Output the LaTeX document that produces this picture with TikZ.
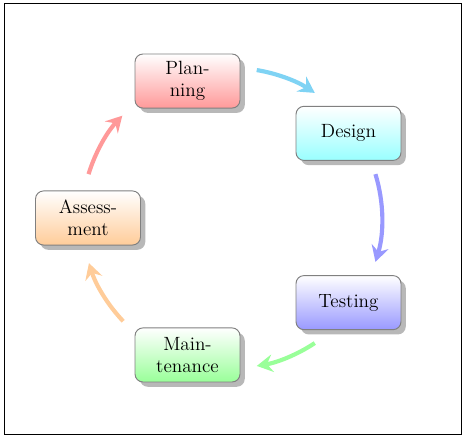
\documentclass[tikz,border=0pt]{standalone}
\usepackage{xcolor}
\usepackage{tikz}
\usetikzlibrary{arrows.meta,shadows}

\definecolor{skyarrow}{HTML}{7FD3F4}

\begin{document}
\begin{tikzpicture}[
            x=0.022cm, y=0.022cm,
            stage/.style={rectangle, draw=black!50, line width=0.6pt, rounded corners=5pt, minimum height=1.19cm, minimum width=2.31cm, inner sep=2pt, align=center, font=\large, drop shadow={shadow xshift=3pt, shadow yshift=-3pt, fill=black!28, opacity=1}},
            arrow/.style={-{Stealth[length=10pt, width=11pt, inset=3.5pt]}, line width=2.6pt}
        ]
        
        % Frame
        \useasboundingbox (-232,-221) rectangle (233,218);
        \draw[line width=0.6pt] (-228,-216) rectangle (229,215);
        
        % Stages
        \node[stage, top color=white, bottom color=red!40] (plan) at (108:144) {Plan-\\ning};
        \node[stage, top color=white, bottom color=cyan!40] (design) at (36:144) {Design};
        \node[stage, top color=white, bottom color=blue!40] (test) at (-36:144) {Testing};
        \node[stage, top color=white, bottom color=green!40] (maint) at (-108:144) {Main-\\tenance};
        \node[stage, top color=white, bottom color=orange!40] (assess) at (180:144) {Assess-\\ment};
        
        % Arrows
        \coordinate (plan-out) at (80.5:150);
        \coordinate (design-out) at (17:150);
        \coordinate (test-out) at (-56.5:150);
        \coordinate (maint-out) at (223.5:150);
        \coordinate (assess-out) at (163:150);
        \draw[arrow, skyarrow] (plan-out) arc[start angle=80.5, end angle=56.5, radius=150];
        \draw[arrow, blue!40] (design-out) arc[start angle=17, end angle=-17, radius=150];
        \draw[arrow, green!40] (test-out) arc[start angle=-56.5, end angle=-80.5, radius=150];
        \draw[arrow, orange!40] (maint-out) arc[start angle=223.5, end angle=197.5, radius=150];
        \draw[arrow, red!40] (assess-out) arc[start angle=163, end angle=137, radius=150];
        
        \end{tikzpicture}
\end{document}
